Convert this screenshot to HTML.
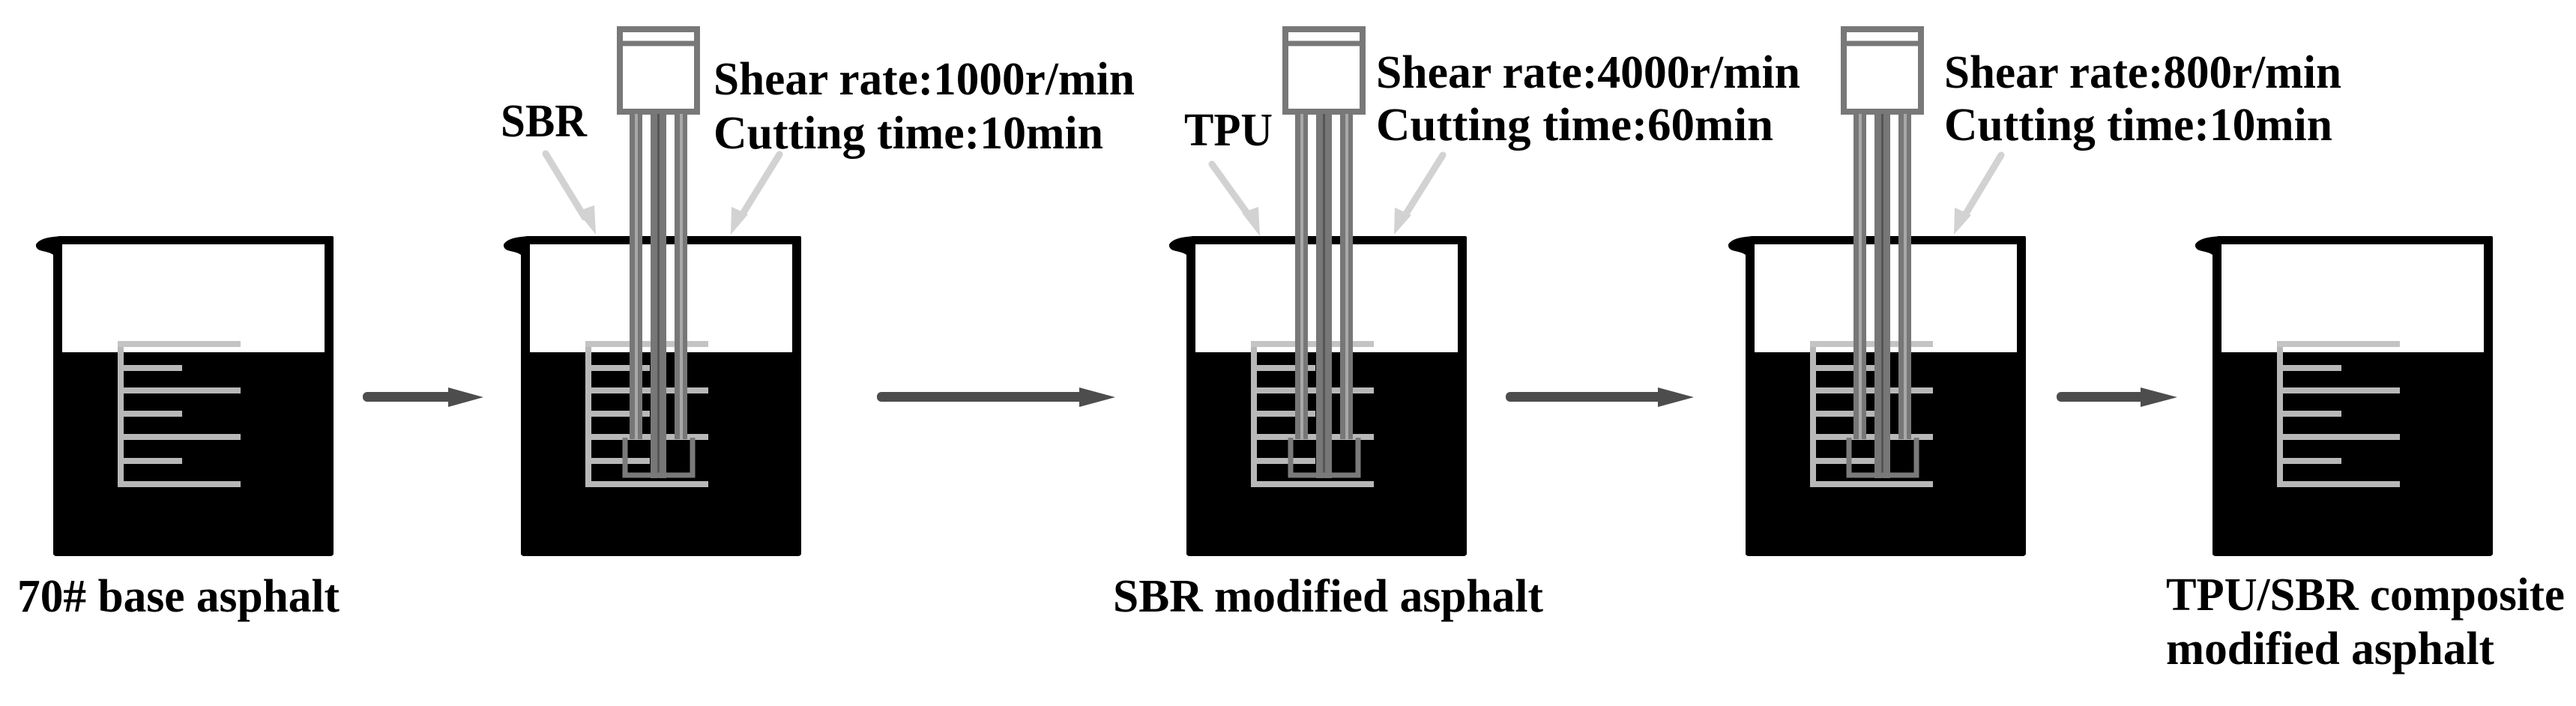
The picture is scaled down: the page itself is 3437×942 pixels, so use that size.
<!DOCTYPE html>
<html><head><meta charset="utf-8"><style>
html,body{margin:0;padding:0;background:#fff;}
svg{display:block;}
svg text{font-family:"Liberation Serif","DejaVu Serif","Noto Serif CJK SC",serif;font-weight:bold;fill:#000;font-size:62px;}
</style></head><body>
<svg width="3437" height="942" viewBox="0 0 3437 942" xmlns="http://www.w3.org/2000/svg">
<defs>
<g id="beaker">
  <rect x="0" y="470" width="374" height="272" rx="4" fill="#000"/>
  <rect x="0" y="320" width="12" height="420" fill="#000"/>
  <rect x="362" y="316" width="12" height="424" fill="#000"/>
  <rect x="6" y="315" width="368" height="11" rx="2" fill="#000"/>
  <path d="M10,315 L0,316 Q-18,318 -23,326 Q-24,333 -14,335 Q-4,337 0,340 L12,340 L12,326 Z" fill="#000"/>
  <g stroke="#b8b8b8" stroke-width="8" stroke-linecap="butt" fill="none">
    <line x1="90" y1="458" x2="90" y2="648"/>
    <line x1="86" y1="459" x2="250" y2="459" stroke="#c4c4c4"/>
    <line x1="90" y1="491" x2="172" y2="491"/>
    <line x1="90" y1="521" x2="250" y2="521"/>
    <line x1="90" y1="552" x2="172" y2="552"/>
    <line x1="90" y1="583" x2="250" y2="583"/>
    <line x1="90" y1="615" x2="172" y2="615"/>
    <line x1="86" y1="646" x2="250" y2="646"/>
  </g>
</g>
<g id="mixer">
  <rect x="4" y="39" width="103" height="110" fill="#fff" stroke="#787878" stroke-width="8"/>
  <line x1="4" y1="58" x2="107" y2="58" stroke="#787878" stroke-width="7"/>
  <rect x="17" y="152" width="17" height="434" fill="#777"/>
  <rect x="24" y="152" width="4" height="434" fill="#a8a8a8"/>
  <rect x="45" y="152" width="21" height="486" fill="#777"/>
  <rect x="54" y="152" width="3" height="486" fill="#555"/>
  <rect x="77" y="152" width="17" height="434" fill="#777"/>
  <rect x="84" y="152" width="4" height="434" fill="#a8a8a8"/>
  <path d="M11,584 L11,634 L101,634 L101,584" fill="none" stroke="#7a7a7a" stroke-width="7"/>
</g>
</defs>

<use href="#beaker" x="71" y="0"/>
<use href="#beaker" x="695" y="0"/>
<use href="#beaker" x="1583" y="0"/>
<use href="#beaker" x="2329" y="0"/>
<use href="#beaker" x="2952" y="0"/>

<use href="#mixer" x="823" y="0"/>
<use href="#mixer" x="1711" y="0"/>
<use href="#mixer" x="2456" y="0"/>

<g fill="#4d4d4d">
  <rect x="484" y="523" width="125" height="13" rx="6"/>
  <polygon points="598,517 645,530 598,543"/>
  <rect x="1170" y="523" width="280" height="13" rx="6"/>
  <polygon points="1440,517 1488,530 1440,543"/>
  <rect x="2009" y="523" width="215" height="13" rx="6"/>
  <polygon points="2212,517 2260,530 2212,543"/>
  <rect x="2744" y="523" width="122" height="13" rx="6"/>
  <polygon points="2856,517 2905,530 2856,543"/>
</g>

<g stroke="#d2d2d2" stroke-width="9" stroke-linecap="round" fill="#d2d2d2">
  <line x1="728" y1="205" x2="780" y2="290"/>
  <polygon stroke="none" points="770,282 793,274 795,313"/>
  <line x1="1040" y1="206" x2="988" y2="290"/>
  <polygon stroke="none" points="976,276 998,286 975,313"/>
  <line x1="1617" y1="219" x2="1668" y2="290"/>
  <polygon stroke="none" points="1657,284 1679,276 1681,315"/>
  <line x1="1925" y1="207" x2="1873" y2="290"/>
  <polygon stroke="none" points="1861,277 1883,287 1860,313"/>
  <line x1="2670" y1="207" x2="2620" y2="290"/>
  <polygon stroke="none" points="2608,277 2630,287 2607,313"/>
</g>

<g>
<text x="668" y="182" textLength="115" lengthAdjust="spacingAndGlyphs">SBR</text>
<text x="952" y="126" textLength="562" lengthAdjust="spacingAndGlyphs">Shear rate:1000r/min</text>
<text x="952" y="198" textLength="520" lengthAdjust="spacingAndGlyphs">Cutting time:10min</text>

<text x="1580" y="194" textLength="118" lengthAdjust="spacingAndGlyphs">TPU</text>
<text x="1836" y="117" textLength="566" lengthAdjust="spacingAndGlyphs">Shear rate:4000r/min</text>
<text x="1836" y="187" textLength="530" lengthAdjust="spacingAndGlyphs">Cutting time:60min</text>

<text x="2594" y="117" textLength="530" lengthAdjust="spacingAndGlyphs">Shear rate:800r/min</text>
<text x="2594" y="187" textLength="518" lengthAdjust="spacingAndGlyphs">Cutting time:10min</text>

<text x="23" y="816" textLength="430" lengthAdjust="spacingAndGlyphs">70# base asphalt</text>
<text x="1485" y="816" textLength="574" lengthAdjust="spacingAndGlyphs">SBR modified asphalt</text>
<text x="2890" y="814" textLength="532" lengthAdjust="spacingAndGlyphs">TPU/SBR composite</text>
<text x="2890" y="886" textLength="438" lengthAdjust="spacingAndGlyphs">modified asphalt</text>
</g>
</svg>
</body></html>
